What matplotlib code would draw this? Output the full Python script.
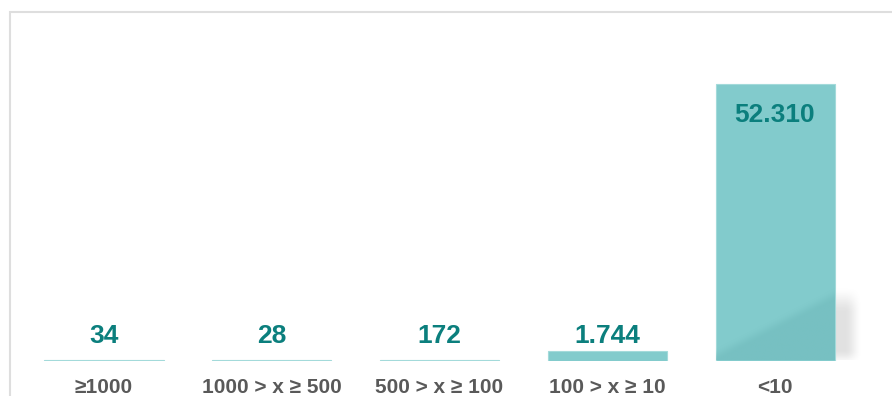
import numpy as np
import matplotlib
matplotlib.use("Agg")
import matplotlib.pyplot as plt
from matplotlib.patches import Rectangle
from matplotlib.transforms import blended_transform_factory, offset_copy

# Data
categories = ["≥1000", "1000 > x ≥ 500", "500 > x ≥ 100", "100 > x ≥ 10", "<10"]
values = [34, 28, 172, 1744, 52310]

plt.rcParams["font.family"] = ["Liberation Sans", "DejaVu Sans"]

W, H = 892, 396
DPI = 100
fig = plt.figure(figsize=(W / DPI, H / DPI), dpi=DPI)
fig.patch.set_facecolor("white")

bar_color = "#82cbcc"
edge_color = "#a3dada"
label_color = "#0b7f7d"
cat_color = "#595959"

# Axes geometry (pixels)
base_px = 35.5          # baseline height from the bottom
top_px = H - 10         # axes top from the bottom
step_px = 167.75        # distance between bar centres
first_px = 104          # first bar centre
max_bar_px = 276.5      # height of the tallest bar

ax = fig.add_axes([0, base_px / H, 1, (top_px - base_px) / H])
val_per_px = max(values) / max_bar_px
ax.set_ylim(0, (top_px - base_px) * val_per_px)
ax.set_xlim(-first_px / step_px, (W - first_px) / step_px)
ax.axis("off")

x = np.arange(len(values))
width = 119 / step_px
bars = ax.bar(x, values, width=width, color=bar_color, edgecolor=edge_color,
              linewidth=0.8, zorder=3)

# Soft shadow to the right of the tallest bar
imax = int(np.argmax(values))
xr = x[imax] + width / 2
n = 128
u = np.linspace(0, 1, n)[None, :]
v = np.linspace(0, 1, n)[:, None]   # 0 = top row
def smooth(t):
    t = np.clip(t, 0, 1)
    return t * t * (3 - 2 * t)
fade_r = 1 - smooth((u - 0.4) / 0.6)
fade_t = smooth((v - 0.0) / 0.35)
fade_b = 1 - smooth((v - 0.8) / 0.2)
alpha = 0.12 * fade_r * fade_t * fade_b
shadow = np.zeros((n, n, 4))
shadow[..., 3] = alpha
sh_w = 28 / step_px
ax.imshow(shadow, extent=(xr - 2 / step_px, xr + sh_w, -6 * val_per_px, 75 * val_per_px),
          aspect="auto", zorder=2, interpolation="bilinear")

# Darker diagonal sheen on the lower part of the tallest bar
vb = np.linspace(1, 0, 256)[:, None]  # top row = top of bar
ub = np.linspace(0, 1, 64)[None, :]
line = 0.04 + (ub - 0.12) * 0.216
dark = 1 - smooth((vb - line + 0.02) / 0.05)
sheen = np.zeros((256, 64, 4))
sheen[..., 0] = 0x6c / 255
sheen[..., 1] = 0xb6 / 255
sheen[..., 2] = 0xb8 / 255
sheen[..., 3] = 0.5 * dark
ax.imshow(sheen, extent=(x[imax] - width / 2, x[imax] + width / 2, 0, values[imax]),
          aspect="auto", zorder=4, interpolation="bilinear")

# Value labels (European thousands separator)
floor_val = 9.5 * val_per_px
for xi, val in zip(x, values):
    txt = f"{val:,}".replace(",", ".")
    if val > 0.5 * max(values):
        tr = offset_copy(ax.transData, fig=fig, y=-38 * 72 / DPI, units="points")
        ax.text(xi, val, txt, transform=tr, ha="center", va="baseline",
                fontsize=19, fontweight="bold", color=label_color, zorder=5)
    else:
        tr = offset_copy(ax.transData, fig=fig, y=8 * 72 / DPI, units="points")
        ax.text(xi, max(val, floor_val), txt, transform=tr, ha="center", va="baseline",
                fontsize=19, fontweight="bold", color=label_color, zorder=5)

# Category labels along the bottom
btr = blended_transform_factory(ax.transData, fig.transFigure)
for xi, cat in zip(x, categories):
    ax.text(xi, 3 / H, cat, transform=btr, ha="center", va="baseline",
            fontsize=15, fontweight="bold", color=cat_color, clip_on=False)

# Light frame around the chart area
fig.add_artist(Rectangle((9.5 / W, -0.1), 2, (H - 11.5) / H + 0.1,
                         transform=fig.transFigure, fill=False,
                         edgecolor="#dedede", linewidth=1.5))

fig.savefig("out.png", dpi=DPI)
